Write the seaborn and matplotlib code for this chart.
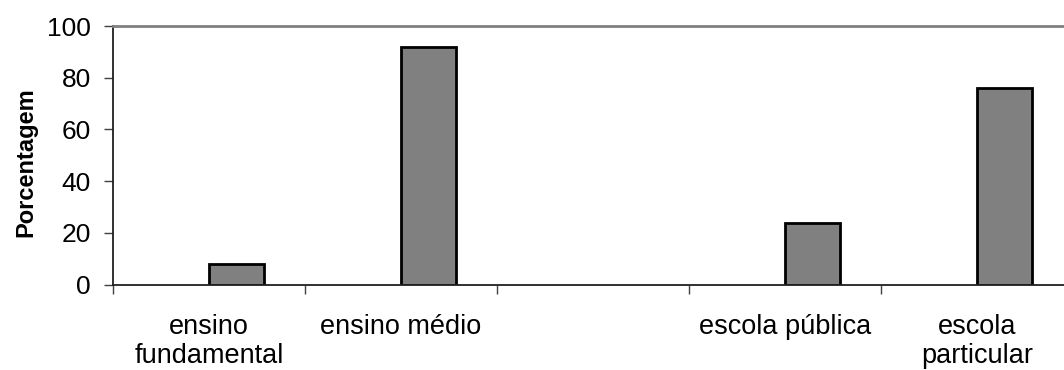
import matplotlib
matplotlib.use("Agg")
import matplotlib.pyplot as plt
import pandas as pd
import seaborn as sns

# data
categorias = ["ensino\nfundamental", "ensino médio", "escola pública", "escola\nparticular"]
porcentagem = [8, 92, 24, 76]
# the third slot of the original chart is empty
ordem = ["ensino\nfundamental", "ensino médio", " ", "escola pública", "escola\nparticular"]
series = ["vazio", "Porcentagem"]

sns.set_style("ticks")
plt.rcParams["font.family"] = ["Liberation Sans", "DejaVu Sans"]
plt.rcParams["text.color"] = "black"
plt.rcParams["xtick.labelcolor"] = "black"
plt.rcParams["ytick.labelcolor"] = "black"
plt.rcParams["axes.labelcolor"] = "black"

df = pd.DataFrame({"categoria": categorias, "valor": porcentagem, "serie": "Porcentagem"})

fig = plt.figure(figsize=(10.64, 3.70), dpi=100)
ax = fig.add_axes([113 / 1064, 85.3 / 370, 960 / 1064, 258.7 / 370])

sns.barplot(
    data=df,
    x="categoria",
    y="valor",
    hue="serie",
    order=ordem,
    hue_order=series,
    palette={"vazio": "white", "Porcentagem": "#808080"},
    width=110 / 192,
    dodge=True,
    edgecolor="black",
    linewidth=2,
    legend=False,
    ax=ax,
)

ax.set_xlim(-0.5, len(ordem) - 0.5)
ax.set_ylim(0, 100)
ax.set_yticks(range(0, 101, 20))
ax.tick_params(axis="y", labelsize=19, length=6.5, width=1, pad=9.5,
               color="#404040", labelcolor="black")

# ticks at the category boundaries, labels in the middle
ax.set_xticks([i - 0.5 for i in range(len(ordem))])
ax.set_xticklabels([])
ax.set_xticks(range(len(ordem)), minor=True)
ax.set_xticklabels(ordem, minor=True, fontsize=19.5, color="black")
for lbl in ax.get_xticklabels(minor=True):
    lbl.set_linespacing(1.17)
ax.tick_params(axis="x", which="major", length=6.5, width=1, color="#404040")
ax.tick_params(axis="x", which="minor", length=0, pad=21)

ax.set_xlabel("")
ax.set_ylabel("Porcentagem", fontsize=17, fontweight="bold", color="black")
ax.yaxis.set_label_coords(-0.079, 0.473)

for s in ["left", "bottom"]:
    ax.spines[s].set_color("#202020")
    ax.spines[s].set_linewidth(1.3)
ax.spines["top"].set_color("#808080")
ax.spines["top"].set_linewidth(2)
ax.spines["right"].set_visible(False)

fig.savefig("out.png", dpi=100)
